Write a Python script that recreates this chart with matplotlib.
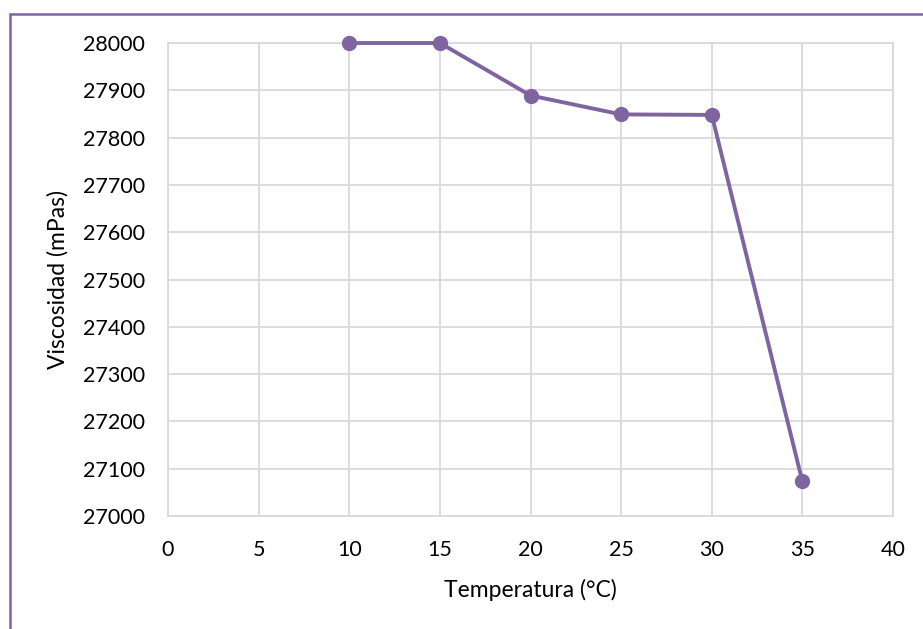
import matplotlib
matplotlib.use("Agg")
import matplotlib.pyplot as plt
from matplotlib.patches import Rectangle

# datos
temperatura = [10, 15, 20, 25, 30, 35]
viscosidad = [28000, 28000, 27889, 27849, 27848, 27073]
x_ticks = [0, 5, 10, 15, 20, 25, 30, 35, 40]
y_ticks = [27000, 27100, 27200, 27300, 27400, 27500, 27600, 27700, 27800, 27900, 28000]

plt.rcParams["font.family"] = ["Lato", "DejaVu Sans"]
morado = "#8064A2"
gris = "#D9D9D9"

fig = plt.figure(figsize=(9.23, 6.29), dpi=100)
ax = fig.add_axes([168 / 923, 1 - 516 / 629, (893 - 168) / 923, (516 - 43) / 629])

ax.plot(temperatura, viscosidad, color=morado, lw=2.8, marker="o", ms=10,
        markerfacecolor=morado, markeredgecolor=morado, zorder=3, clip_on=False)

ax.set_xlim(0, 40)
ax.set_ylim(27000, 28000)
ax.set_xticks(x_ticks)
ax.set_yticks(y_ticks)
ax.grid(True, color=gris, lw=1.3)
for s in ax.spines.values():
    s.set_color(gris)
    s.set_linewidth(1.3)
ax.tick_params(length=0, labelsize=15.5)
ax.tick_params(axis="x", pad=17)
ax.tick_params(axis="y", pad=16.5)

ax.set_xlabel("Temperatura (°C)", fontsize=16.5, labelpad=14)
ax.set_ylabel("Viscosidad (mPas)", fontsize=16.5, labelpad=10)

# marco morado del grafico
fig.patches.append(Rectangle((10 / 923, -0.1), 1.2, 1 - 14 / 629 + 0.1,
                             transform=fig.transFigure, fill=False,
                             edgecolor=morado, lw=1.8))

fig.savefig("out.png", dpi=100)
